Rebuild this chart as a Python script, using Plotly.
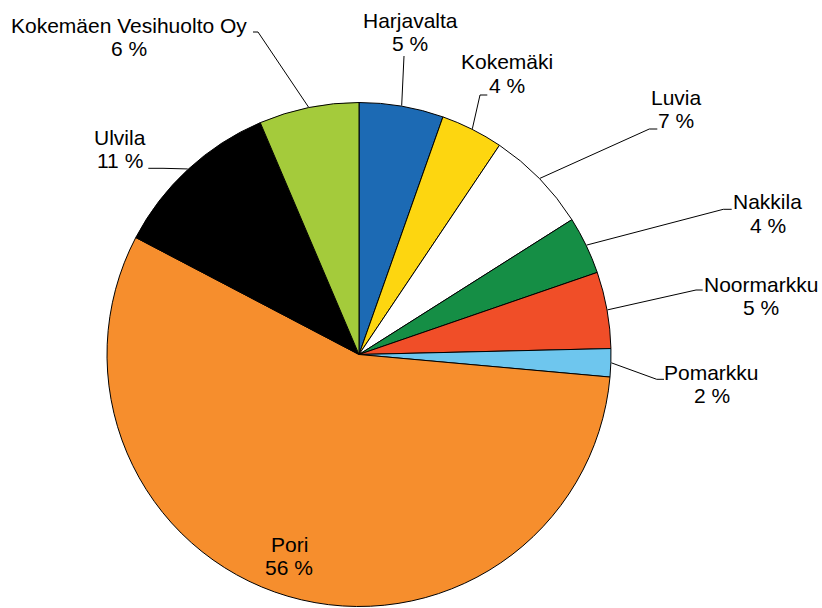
import math
import plotly.graph_objects as go

# ---- data ----
labels = ["Harjavalta", "Kokemäki", "Luvia", "Nakkila", "Noormarkku",
          "Pomarkku", "Pori", "Ulvila", "Kokemäen Vesihuolto Oy"]
shares = [5.4, 4.0, 6.6, 3.7, 4.9, 1.8, 56.2, 10.9, 6.4]

# ---- styles ----
colors = ["#1C6AB4", "#FDD610", "#FFFFFF", "#158E45", "#F04E28",
          "#6EC6EE", "#F68E2D", "#000000", "#A4CB3B"]

W, H = 822, 608
CX, CY, R = 359, 354.5, 252
FONT = dict(family="Liberation Sans, Arial, sans-serif", size=21, color="black")
LINE_GAP = 23.4

# label layout (pixels): first-line centre, leader elbow, leader tail end
label_text_pos = {
    "Harjavalta": (410.3, 20.0),
    "Kokemäki": (506.7, 61.7),
    "Luvia": (676.0, 97.5),
    "Nakkila": (767.7, 201.7),
    "Noormarkku": (760.5, 284.0),
    "Pomarkku": (711.7, 372.2),
    "Pori": (289.0, 544.5),
    "Ulvila": (120.0, 137.2),
    "Kokemäen Vesihuolto Oy": (129.0, 25.0),
}
leader_elbow = {
    "Harjavalta": ((404, 56), None),
    "Kokemäki": ((480, 95), (487.3, 95)),
    "Luvia": ((649.3, 129), (657.3, 129)),
    "Nakkila": ((723.3, 209.3), (731.7, 209.3)),
    "Noormarkku": ((696, 290), (702.7, 290)),
    "Pomarkku": ((656.7, 379.3), (664, 379.3)),
    "Ulvila": ((163, 168.3), (148.3, 168.3)),
    "Kokemäen Vesihuolto Oy": ((258, 32), (253, 32)),
}


def px(x):
    return x / W


def py(y):
    return 1 - y / H


fig = go.Figure(go.Pie(
    labels=labels,
    values=shares,
    sort=False,
    direction="clockwise",
    rotation=0,
    marker=dict(colors=colors, line=dict(color="black", width=1)),
    textinfo="none",
    hoverinfo="label+percent",
    showlegend=False,
    domain=dict(x=[(CX - R) / W, (CX + R) / W], y=[1 - (CY + R) / H, 1 - (CY - R) / H]),
))

total = sum(shares)
annotations = []
shapes = []
cum = 0.0
for name, v in zip(labels, shares):
    start = cum / total * 360
    cum += v
    end = cum / total * 360
    mid = math.radians((start + end) / 2)
    ex = CX + (R + 0.5) * math.sin(mid)
    ey = CY - (R + 0.5) * math.cos(mid)
    pct = f"{round(v / total * 100)} %"
    tx, ty = label_text_pos[name]
    for i, t in enumerate([name, pct]):
        annotations.append(dict(
            x=px(tx), y=py(ty + i * LINE_GAP), xref="paper", yref="paper",
            text=t, showarrow=False, xanchor="center", yanchor="middle",
            font=FONT,
        ))
    if name in leader_elbow:
        (bx, by), tail = leader_elbow[name]
        path = f"M {px(ex)} {py(ey)} L {px(bx)} {py(by)}"
        if tail is not None:
            path += f" L {px(tail[0])} {py(tail[1])}"
        shapes.append(dict(type="path", path=path, xref="paper", yref="paper",
                           line=dict(color="black", width=1)))

fig.update_layout(
    width=W, height=H,
    margin=dict(l=0, r=0, t=0, b=0),
    paper_bgcolor="white", plot_bgcolor="white",
    annotations=annotations, shapes=shapes,
    showlegend=False,
)

fig.write_html(
    "out.html",
    config={"displayModeBar": False},
    post_script="document.body.style.margin='0';document.body.style.overflow='hidden';",
)
